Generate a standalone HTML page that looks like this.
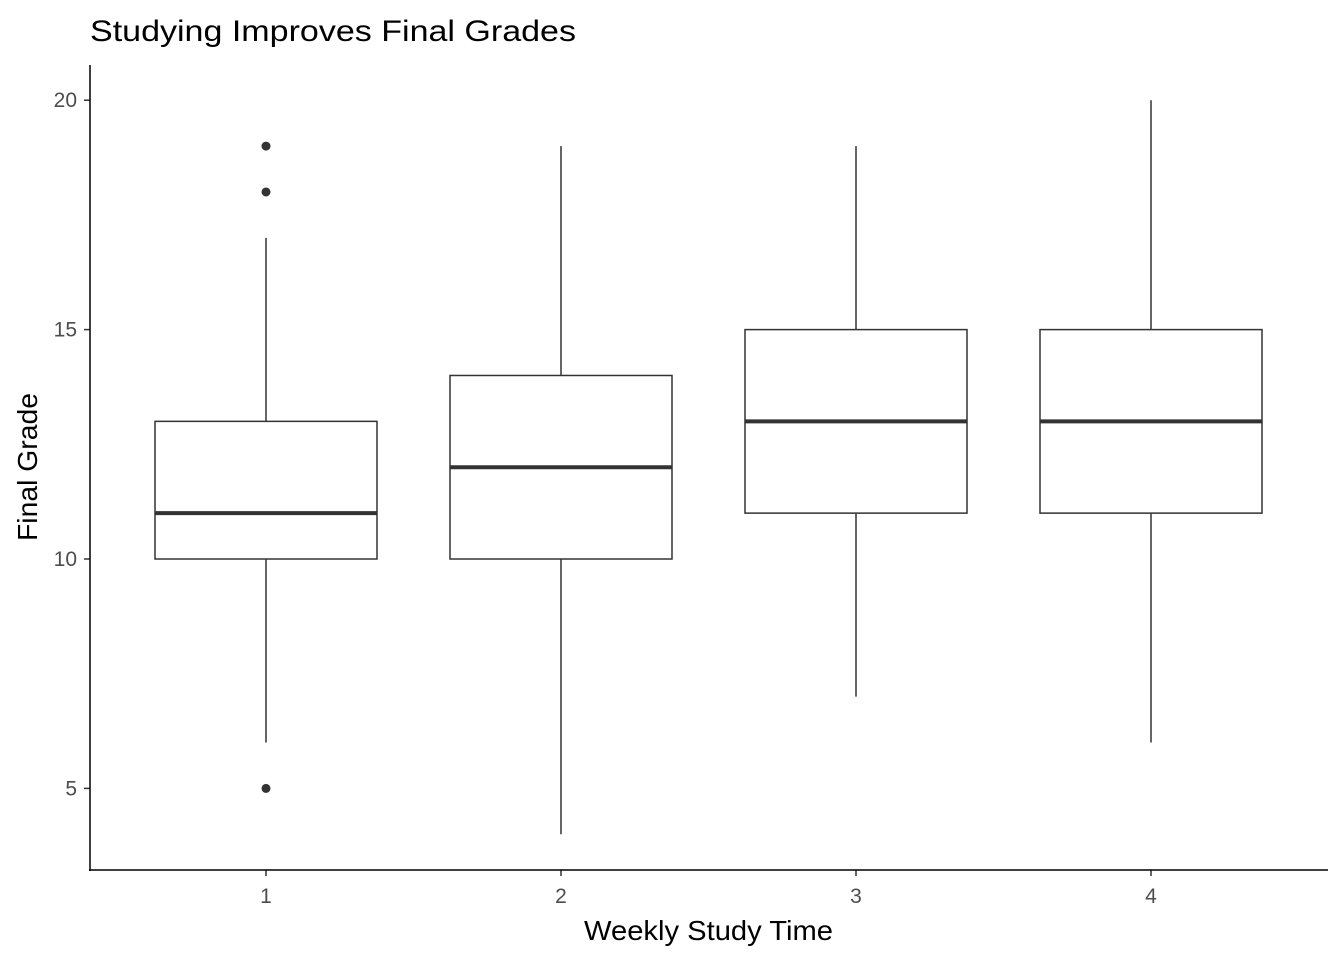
<!DOCTYPE html>
<html><head><meta charset="utf-8">
<style>
html,body{margin:0;padding:0;background:#fff;}
svg{display:block;font-family:"Liberation Sans",Arial,sans-serif;}
</style></head>
<body>
<svg id="chart" width="1344" height="960" viewBox="0 0 1344 960">
<text x="90" y="41" font-size="30" textLength="486" lengthAdjust="spacingAndGlyphs" fill="#000">Studying Improves Final Grades</text>
<g id="plot"></g>
<line x1="90" y1="65" x2="90" y2="871" stroke="#000" stroke-width="1.5"/>
<line x1="89" y1="870" x2="1328" y2="870" stroke="#000" stroke-width="1.5"/>
<text x="584" y="940" font-size="28" textLength="249" lengthAdjust="spacingAndGlyphs" fill="#000">Weekly Study Time</text>
<text transform="translate(37,541) rotate(-90)" font-size="28" textLength="148" lengthAdjust="spacingAndGlyphs" fill="#000">Final Grade</text>
</svg>
<script>
const categories = ["1","2","3","4"];
const mins = [6,4,7,6];
const q1s = [10,10,11,11];
const medians = [11,12,13,13];
const q3s = [13,14,15,15];
const maxs = [17,19,19,20];
const outliers = [[19,18,5],[],[],[]];
const yTicks = [5,10,15,20];

const NS="http://www.w3.org/2000/svg";
const plot=document.getElementById('plot');
function y(v){return 559-(v-10)*45.88;}
function x(i){return 266+i*295;}
const half=111;
function mk(tag,attrs){const e=document.createElementNS(NS,tag);for(const k in attrs)e.setAttribute(k,attrs[k]);plot.appendChild(e);return e;}

yTicks.forEach(t=>{
  const l=mk('line',{x1:84,x2:90,y1:y(t),y2:y(t),stroke:'#333','stroke-width':1.5});
  
  
  const tx=mk('text',{x:77,y:y(t)+7,'font-size':21,'text-anchor':'end',fill:'#4d4d4d'});
  tx.textContent=t;
  
  
});
categories.forEach((c,i)=>{
  const cx=x(i);
  const tk=mk('line',{x1:cx,x2:cx,y1:870,y2:876,stroke:'#333','stroke-width':1.5});
  
  
  const tl=mk('text',{x:cx,y:903,'font-size':21,'text-anchor':'middle',fill:'#4d4d4d'});
  tl.textContent=c;
  
  
  const w1=mk('line',{x1:cx,x2:cx,y1:y(q3s[i]),y2:y(maxs[i]),stroke:'#333','stroke-width':1.5});
  
  
  const w2=mk('line',{x1:cx,x2:cx,y1:y(q1s[i]),y2:y(mins[i]),stroke:'#333','stroke-width':1.5});
  
  
  const b=mk('rect',{x:cx-half,y:y(q3s[i]),width:2*half,height:y(q1s[i])-y(q3s[i]),fill:'#fff',stroke:'#333','stroke-width':1.5});
  
  
  const m=mk('line',{x1:cx-half,x2:cx+half,y1:y(medians[i]),y2:y(medians[i]),stroke:'#333','stroke-width':4});
  
  
  outliers[i].forEach(o=>{
    const p=mk('circle',{cx:cx,cy:y(o),r:4.5,fill:'#333'});
    
    
  });
});
</script>
</body></html>
